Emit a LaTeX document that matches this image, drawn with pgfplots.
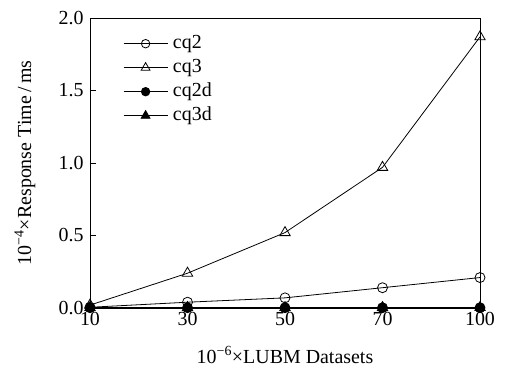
\documentclass[border=0pt]{standalone}
\usepackage{pgfplots}
\pgfplotsset{compat=1.18}
\usepackage{fontspec}
\setmainfont{Liberation Serif}
\newcommand{\lf}{\fontsize{20}{22}\selectfont}
\begin{document}
\begin{tikzpicture}[x=1bp,y=1bp]
\useasboundingbox (-90,-58) rectangle (416,308);
\begin{axis}[
  at={(0,0)}, anchor=south west,
  scale only axis,
  width=390bp, height=290bp,
  xmin=0, xmax=4, ymin=0, ymax=2,
  xtick={0,1,2,3,4},
  xticklabels={10,30,50,70,100},
  ytick={0,0.5,1,1.5,2},
  yticklabel style={/pgf/number format/fixed,/pgf/number format/fixed zerofill,/pgf/number format/precision=1},
  /pgf/number format/assume math mode=true,
  tick align=inside,
  xtick pos=bottom, ytick pos=left,
  xtick style={draw=none},
  major tick length=6bp,
  tick style={black, line width=0.8pt},
  axis line style={line width=0.9pt},
  ticklabel style={font=\lf},
  yticklabel style={xshift=-3bp},
  xticklabel style={yshift=-1bp},
  xlabel={10\textsuperscript{−6}×LUBM Datasets},
  ylabel={10\textsuperscript{−4}×Response Time\,/\,ms},
  every axis x label/.style={at={(axis description cs:0.5,0)}, anchor=base, yshift=-55bp, font=\lf},
  every axis y label/.style={at={(axis description cs:-0.1667,0.5)}, rotate=90, anchor=center, font=\lf},
  clip=false,
  legend style={draw=none, fill=none, at={(33bp,275bp)}, anchor=north west, row sep=3bp, inner sep=0pt,
    nodes={inner sep=1bp, text height=14bp, text depth=5bp}},
  legend cell align=left,
  legend image code/.code={\draw[mark repeat=2,mark phase=2, every mark/.append style={scale=0.85}] plot coordinates {(0bp,0bp) (22bp,0bp) (44bp,0bp)}; \path (48bp,0bp);},
  every axis plot/.append style={black, line width=0.8pt, mark size=5bp, mark options={solid, line width=0.8pt}},
]
\addplot[mark=o] coordinates {(0,0.005) (1,0.04) (2,0.07) (3,0.14) (4,0.21)};
\addlegendentry{\lf cq2}
\addplot[mark=triangle, mark size=6bp] coordinates {(0,0.02) (1,0.24) (2,0.52) (3,0.97) (4,1.87)};
\addlegendentry{\lf cq3}
\addplot[mark=*] coordinates {(0,0.002) (1,0.002) (2,0.002) (3,0.002) (4,0.002)};
\addlegendentry{\lf cq2d}
\addplot[mark=triangle*, mark size=6bp] coordinates {(0,0.003) (1,0.003) (2,0.003) (3,0.003) (4,0.003)};
\addlegendentry{\lf cq3d}
\end{axis}
\end{tikzpicture}
\end{document}
